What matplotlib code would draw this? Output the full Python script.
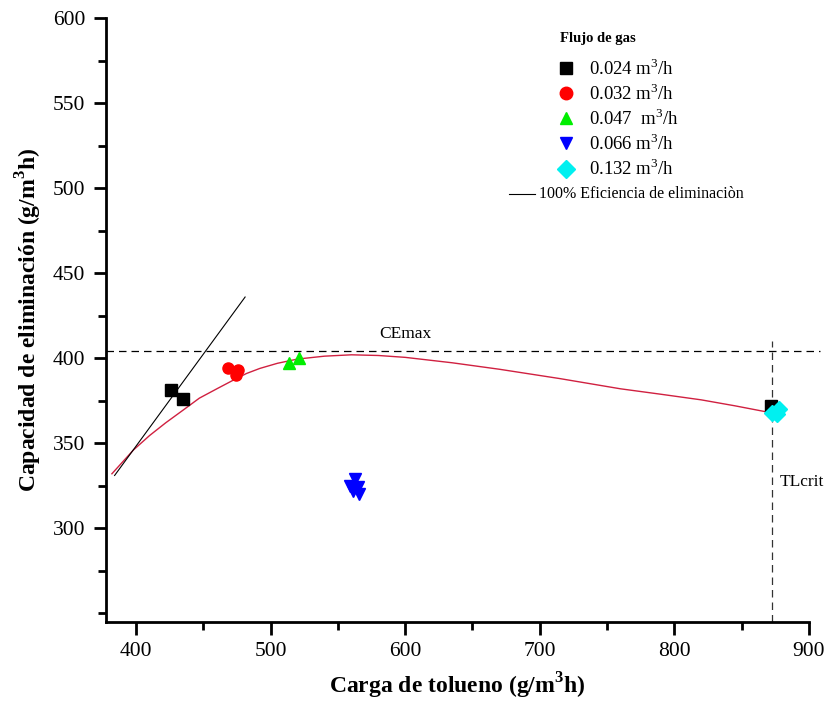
import numpy as np
import matplotlib
matplotlib.use("Agg")
import matplotlib.pyplot as plt
from matplotlib.ticker import MultipleLocator

plt.rcParams['font.family'] = ['Liberation Serif', 'DejaVu Serif']
plt.rcParams['mathtext.fontset'] = 'custom'
plt.rcParams['mathtext.rm'] = 'Liberation Serif'
plt.rcParams['mathtext.bf'] = 'Liberation Serif:bold'

# data
flow_labels = ["0.024 m$^{3}$/h", "0.032 m$^{3}$/h", "0.047  m$^{3}$/h",
               "0.066 m$^{3}$/h", "0.132 m$^{3}$/h"]
flow_colors = ["#000000", "#ff0000", "#00ee00", "#0000ff", "#00f0f0"]
flow_markers = ["s", "o", "^", "v", "D"]

tl_024 = [426, 435, 872]
ce_024 = [381, 376, 372]
tl_032 = [468, 476, 474]
ce_032 = [394, 393, 390]
tl_047 = [514, 521]
ce_047 = [397, 400]
tl_066 = [563, 565, 561, 566, 559]
ce_066 = [329, 324, 322, 320, 325]
tl_132 = [873, 878, 876]
ce_132 = [368, 370, 367]

# fitted curve (read points)
fit_tl = [382, 390, 398, 410, 422, 435, 447, 460, 472, 482, 492, 505, 520,
          540, 560, 580, 600, 635, 670, 715, 760, 790, 820, 845, 868]
fit_ce = [332, 339, 346, 354.5, 362, 369.5, 376.5, 382, 387, 391, 394, 397, 399.5,
          401.2, 402, 401.6, 400.5, 397.3, 393.5, 388, 382, 378.8, 375.5, 372, 368.5]

# 100% removal line
eff_tl = [384, 481]
eff_ce = [331, 436]

ce_max = 404
tl_crit = 873

series_tl = [tl_024, tl_032, tl_047, tl_066, tl_132]
series_ce = [ce_024, ce_032, ce_047, ce_066, ce_132]

fig = plt.figure(figsize=(8.27, 7.04), dpi=100)
ax = fig.add_axes([0.128, 0.117, 0.850, 0.857])

ax.plot(fit_tl, fit_ce, color="#d02040", lw=1.0, zorder=2)
ax.plot(eff_tl, eff_ce, color="black", lw=0.8, zorder=2)

for tl, ce, c, m in zip(series_tl, series_ce, flow_colors, flow_markers):
    ax.plot(tl, ce, ls="none", marker=m, color=c, ms=8, zorder=3)

ax.plot([377.5, 908], [ce_max, ce_max], color="black", lw=0.9,
        dashes=(6, 4), clip_on=False, zorder=1)
ax.plot([tl_crit, tl_crit], [245, 410], color="#333333", lw=0.9,
        dashes=(6, 4), zorder=1)
ax.text(581, 414, "CEmax", fontsize=12.5, va="center", ha="left")
ax.text(878, 327, "TLcrit", fontsize=12.5, va="center", ha="left")

ax.set_xlim(377.5, 900)
ax.set_ylim(245, 600)
ax.xaxis.set_minor_locator(MultipleLocator(50))
ax.yaxis.set_minor_locator(MultipleLocator(25))
ax.set_yticks([300, 350, 400, 450, 500, 550, 600])
ax.set_xticks([400, 500, 600, 700, 800, 900])

for s in ["top", "right"]:
    ax.spines[s].set_visible(False)
for s in ["left", "bottom"]:
    ax.spines[s].set_linewidth(2)
ax.tick_params(which="major", direction="out", length=9, width=2, labelsize=15.5, pad=6)
ax.tick_params(which="minor", direction="out", length=6, width=2)

ax.set_xlabel(r"Carga de tolueno (g/m$^{\mathbf{3}}$h)", fontsize=17,
              fontweight="bold", labelpad=7)
ax.set_ylabel(r"Capacidad de eliminación (g/m$^{\mathbf{3}}$h)", fontsize=17,
              fontweight="bold", labelpad=6)

# legend drawn by hand (axes fraction coords)
ax.text(0.70, 0.967, "Flujo de gas", transform=ax.transAxes, fontsize=10.5,
        fontweight="bold", ha="center", va="center")
for i, (lab, c, m) in enumerate(zip(flow_labels, flow_colors, flow_markers)):
    y = 0.917 - i * 0.0415
    ax.plot([0.654], [y], transform=ax.transAxes, marker=m, color=c, ms=9,
            ls="none", clip_on=False)
    ax.text(0.688, y, lab, transform=ax.transAxes, fontsize=13.5, va="center")
y_last = 0.917 - 5 * 0.0415
ax.plot([0.573, 0.610], [y_last, y_last], transform=ax.transAxes,
        color="black", lw=0.8)
ax.text(0.616, y_last, "100% Eficiencia de eliminaciòn", transform=ax.transAxes,
        fontsize=11.5, va="center")

fig.savefig("out.png", dpi=100)
